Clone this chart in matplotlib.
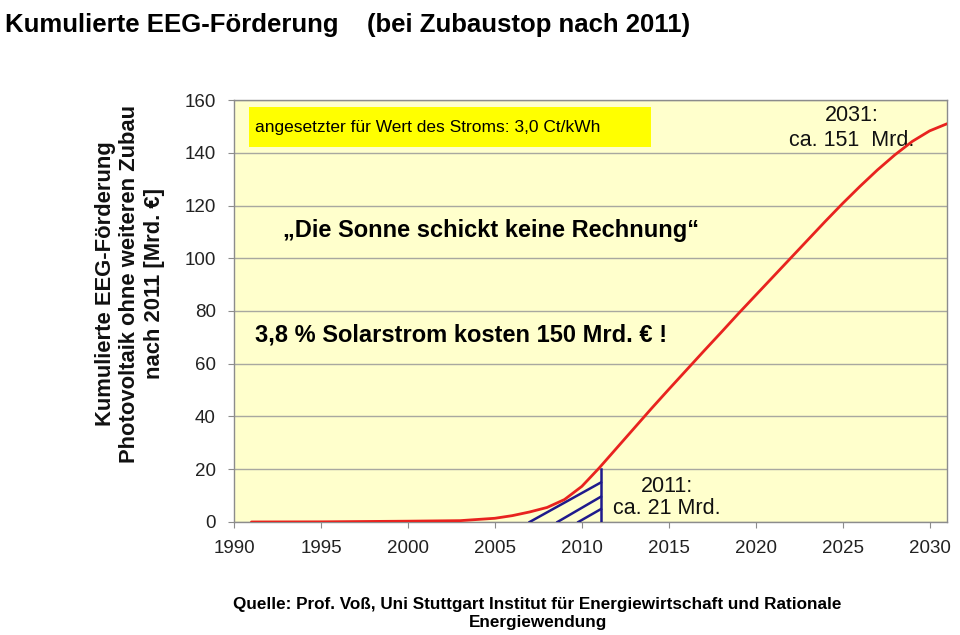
import numpy as np
import matplotlib.pyplot as plt
from matplotlib.patches import Rectangle

plt.rcParams['font.family'] = ['Liberation Sans', 'DejaVu Sans']

# cumulative EEG subsidy [Mrd. EUR]
years = [1991, 1995, 2000, 2003, 2005, 2006, 2007, 2008, 2009, 2010, 2011,
         2012, 2013, 2014, 2015, 2016, 2017, 2018, 2019, 2020, 2021,
         2022, 2023, 2024, 2025, 2026, 2027, 2028, 2029, 2030, 2031]
subsidy = [0.0, 0.05, 0.3, 0.5, 1.4, 2.4, 3.8, 5.5, 8.5, 13.5, 20.5,
           28.0, 35.5, 43.0, 50.3, 57.5, 64.7, 71.8, 79.0, 86.0, 93.0,
           100.0, 107.0, 114.0, 120.8, 127.3, 133.5, 139.2, 144.3, 148.3, 151.0]

# hatched area up to 2011
stop_year = 2011.1
stop_value = 20.0
hatch_start = [2007.0, 2008.6, 2009.8]
hatch_top = [15.0, 9.6, 4.9]

x_ticks = list(range(1990, 2031, 5))
y_ticks = list(range(0, 161, 20))

fig = plt.figure(figsize=(9.6, 6.35), dpi=100)
ax = fig.add_axes([0.2438, 0.178, 0.7427, 0.6645])
ax.set_facecolor('#ffffcc')

ax.set_xlim(1990, 2031)
ax.set_ylim(0, 160)
ax.set_xticks(x_ticks)
ax.set_yticks(y_ticks)
ax.grid(axis='y', color='#a8a8a0', linewidth=1.0)
ax.set_axisbelow(True)
for s in ax.spines.values():
    s.set_color('#8c8c8c')
    s.set_linewidth(1.0)
ax.tick_params(axis='both', colors='#8c8c8c', labelcolor='#222222',
               labelsize=13.5, length=4, direction='out')
ax.tick_params(axis='y', pad=9)
ax.tick_params(axis='x', pad=9)

ax.plot(years, subsidy, color='#e8231f', linewidth=2.0, solid_capstyle='round',
        solid_joinstyle='round', zorder=4)

blue = '#1f1a8c'
ax.plot([stop_year, stop_year], [0, stop_value], color=blue, linewidth=1.8, zorder=3)
for x0, y1 in zip(hatch_start, hatch_top):
    ax.plot([x0, stop_year], [0, y1], color=blue, linewidth=1.8, zorder=3)

# yellow note box
ax.add_patch(Rectangle((0.021, 0.8886), 0.564, 0.0948, transform=ax.transAxes,
                       facecolor='#ffff00', edgecolor='none', zorder=2))
ax.text(0.0295, 0.936, 'angesetzter für Wert des Stroms: 3,0 Ct/kWh',
        transform=ax.transAxes, fontsize=12.5, va='center', ha='left', zorder=3)

ax.text(1992.8, 110.7, '\u201eDie Sonne schickt keine Rechnung\u201c', fontsize=17,
        fontweight='bold', va='center', ha='left')
ax.text(1991.2, 70.9, '3,8 % Solarstrom kosten 150 Mrd. \u20ac !', fontsize=17,
        fontweight='bold', va='center', ha='left')

ax.text(2014.9, 9.4, '2011:\nca. 21 Mrd.', fontsize=15.5, ha='center', va='center',
        linespacing=1.05, color='#111111')
ax.text(2025.5, 149.3, '2031:\nca. 151  Mrd.', fontsize=15.5, ha='center', va='center',
        linespacing=1.25, color='#111111')

fig.text(0.135, 0.553,
         'Kumulierte EEG-Förderung\nPhotovoltaik ohne weiteren Zubau\nnach 2011 [Mrd. \u20ac]',
         rotation=90, ha='center', va='center', fontsize=15.8, fontweight='bold',
         linespacing=1.22, color='#111111')

fig.text(0.005, 0.98, 'Kumulierte EEG-Förderung    (bei Zubaustop nach 2011)',
         fontsize=18.5, fontweight='bold', ha='left', va='top')

fig.text(0.56, 0.034,
         'Quelle: Prof. Voß, Uni Stuttgart Institut für Energiewirtschaft und Rationale\nEnergiewendung',
         fontsize=12.3, fontweight='bold', ha='center', va='center', linespacing=1.25)

fig.savefig('out.png', dpi=100)
